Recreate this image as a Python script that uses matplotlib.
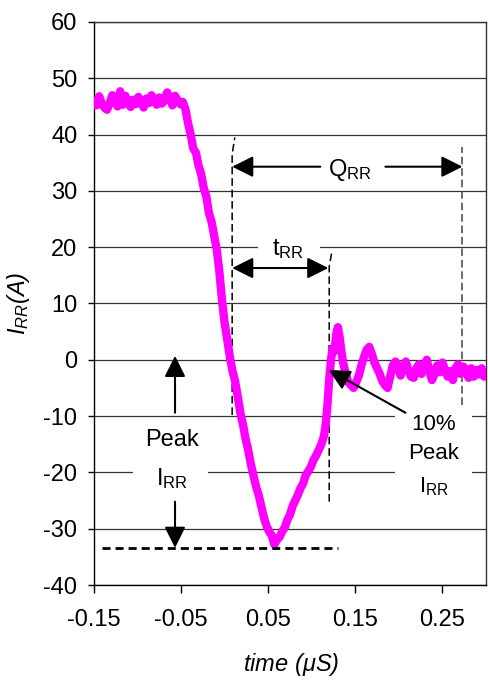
import matplotlib
matplotlib.use("Agg")
import matplotlib.pyplot as plt
from matplotlib.patches import Rectangle

plt.rcParams['font.family'] = ['Liberation Sans', 'DejaVu Sans']
plt.rcParams['mathtext.fontset'] = 'custom'
plt.rcParams['mathtext.rm'] = 'Liberation Sans'
plt.rcParams['mathtext.it'] = 'Liberation Sans:italic'
plt.rcParams['mathtext.bf'] = 'Liberation Sans:bold'
plt.rcParams['axes.unicode_minus'] = False

# ---- data ----
time_flat = [-0.150, -0.147, -0.144, -0.141, -0.138, -0.135, -0.132, -0.129, -0.126, -0.123,
             -0.120, -0.117, -0.114, -0.111, -0.108, -0.105, -0.102, -0.099, -0.096, -0.093,
             -0.090, -0.087, -0.084, -0.081, -0.078, -0.075, -0.072, -0.069, -0.066, -0.063,
             -0.060, -0.057, -0.054, -0.051, -0.048]
current_flat = [46.0, 45.2, 46.8, 45.5, 44.8, 44.4, 45.6, 47.0, 46.1, 45.0,
                47.7, 45.3, 46.9, 45.8, 44.9, 46.2, 45.4, 46.7, 45.9, 44.8,
                46.4, 45.6, 47.0, 46.0, 45.3, 46.6, 45.5, 46.2, 47.5, 46.4,
                45.2, 46.9, 46.1, 45.4, 45.8]

time_fall = [-0.045, -0.042, -0.039, -0.036, -0.033, -0.030, -0.027, -0.024, -0.021, -0.018,
             -0.015, -0.012, -0.009, -0.006, -0.003, 0.000, 0.003, 0.006, 0.009, 0.012,
             0.015, 0.018, 0.021, 0.024, 0.027, 0.030, 0.033, 0.036, 0.039, 0.042,
             0.045, 0.048, 0.051, 0.054, 0.057]
current_fall = [44.5, 42.0, 40.0, 37.5, 36.8, 34.5, 33.0, 30.5, 29.0, 26.0,
                24.5, 22.0, 19.5, 15.5, 10.5, 6.5, 3.5, 0.5, -2.0, -3.8,
                -6.5, -9.4, -11.5, -14.0, -16.0, -18.5, -20.5, -22.5, -24.0, -26.0,
                -28.0, -29.5, -30.5, -31.2, -32.8]

time_recover = [0.060, 0.063, 0.066, 0.069, 0.072, 0.075, 0.078, 0.081, 0.084, 0.087,
                0.090, 0.093, 0.096, 0.099, 0.102, 0.105, 0.108, 0.111, 0.114, 0.116,
                0.118, 0.120, 0.122, 0.124, 0.126, 0.128, 0.130, 0.132, 0.134, 0.136]
current_recover = [-32.0, -31.5, -30.5, -29.8, -28.4, -27.5, -26.0, -25.0, -24.0, -22.8,
                   -22.0, -20.5, -19.8, -19.0, -17.8, -17.0, -16.0, -15.0, -13.5, -11.5,
                   -8.0, -3.5, 0.0, 2.0, 1.5, 4.5, 5.8, 4.0, 1.5, -0.5]

time_tail = [0.139, 0.142, 0.145, 0.148, 0.151, 0.154, 0.157, 0.160, 0.163, 0.166,
             0.169, 0.172, 0.175, 0.178, 0.181, 0.184, 0.187, 0.190, 0.193, 0.196,
             0.199, 0.202, 0.205, 0.208, 0.211, 0.214, 0.217, 0.220, 0.223, 0.226,
             0.229, 0.232, 0.235, 0.238, 0.241, 0.244, 0.247, 0.250, 0.253, 0.256,
             0.259, 0.262, 0.265, 0.268, 0.271, 0.274, 0.277, 0.280, 0.283, 0.286,
             0.289, 0.292, 0.295, 0.298, 0.300]
current_tail = [-2.5, -4.0, -4.5, -5.0, -4.0, -2.8, -1.0, 0.5, 1.8, 2.3,
                1.0, -0.5, -1.5, -2.5, -3.8, -4.5, -5.0, -3.0, -1.0, -0.3,
                -1.5, -2.8, -1.0, -0.3, -2.0, -3.0, -3.2, -1.5, -0.8, -2.5,
                -1.0, 0.0, -2.0, -3.6, -2.5, -1.0, -2.2, -0.5, -1.8, -3.0,
                -2.0, -3.6, -1.5, -0.8, -2.5, -1.2, -2.0, -3.2, -1.5, -3.0,
                -1.8, -2.6, -1.5, -3.0, -2.5]

time_us = time_flat + time_fall + time_recover + time_tail
current_a = current_flat + current_fall + current_recover + current_tail

x_ticks = [-0.15, -0.05, 0.05, 0.15, 0.25]
x_tick_labels = ["-0.15", "-0.05", "0.05", "0.15", "0.25"]
y_ticks = [-40, -30, -20, -10, 0, 10, 20, 30, 40, 50, 60]

# annotation reference values
t_start = 0.0086      # start of reverse recovery
t_trr_end = 0.120     # end of tRR
t_qrr_end = 0.273     # end of QRR
peak_irr = -33.4

FS = 17

fig = plt.figure(figsize=(4.88, 6.81), dpi=100)
ax = fig.add_axes([94/488, 96/681, 392/488, 563/681])
ax.set_xlim(-0.15, 0.30)
ax.set_ylim(-40, 60)
ax.set_xticks(x_ticks)
ax.set_xticklabels(x_tick_labels)
ax.set_yticks(y_ticks)
ax.tick_params(axis='x', length=6, width=1, pad=11, labelsize=FS, direction='out')
ax.tick_params(axis='y', length=4, width=1, pad=8, labelsize=FS, direction='out')
ax.set_axisbelow(True)
ax.yaxis.grid(True, color='#333333', lw=0.9)
for s in ax.spines.values():
    s.set_color('#333333')
    s.set_linewidth(1.0)
ax.spines['left'].set_color('black')
ax.spines['bottom'].set_color('black')

# white gaps in gridlines behind labels
for (x0, x1, y0) in [(0.0385, 0.1098, 20), (-0.105, -0.019, -20),
                     (0.196, 0.2845, -10), (0.196, 0.2845, -20)]:
    ax.add_patch(Rectangle((x0, y0 - 1.0), x1 - x0, 2.0, fc='white', ec='none', zorder=1))

# curve
ax.plot(time_us, current_a, color='#FF00FF', lw=6, solid_capstyle='round',
        solid_joinstyle='round', zorder=3)

# dashed guide lines
vd = dict(color='black', lw=1.1, linestyle=(0, (5, 2.5)), zorder=2)
ax.plot([t_start, t_start, t_start + 0.003], [-9.8, 36.5, 39.5], **vd)
ax.plot([t_trr_end, t_trr_end, t_trr_end + 0.003], [-25.2, 16.5, 19.2], **vd)
ax.plot([t_qrr_end, t_qrr_end], [-8.0, 37.8], color='#444444', lw=1.1,
        linestyle=(0, (5, 2.5)), zorder=2)
ax.plot([-0.141, 0.130], [peak_irr, peak_irr], color='black', lw=2.0,
        linestyle=(0, (2.9, 1.8)), zorder=4)

ap = dict(arrowstyle='-|>,head_length=0.4,head_width=0.2', mutation_scale=32,
          color='black', lw=1.5, shrinkA=0, shrinkB=0)
ap2 = dict(arrowstyle='<|-|>,head_length=0.4,head_width=0.2', mutation_scale=32,
           color='black', lw=1.5, shrinkA=0, shrinkB=0)

# QRR
ax.annotate('', xy=(t_start, 34.3), xytext=(0.1098, 34.3), arrowprops=ap, zorder=5)
ax.annotate('', xy=(t_qrr_end, 34.3), xytext=(0.1845, 34.3), arrowprops=ap, zorder=5)
ax.text(0.144, 32.7, r'Q$_{\mathrm{RR}}$', fontsize=FS, ha='center', va='baseline', zorder=5)

# tRR
ax.annotate('', xy=(t_start, 16.3), xytext=(t_trr_end - 0.001, 16.3), arrowprops=ap2, zorder=5)
ax.text(0.073, 18.6, r't$_{\mathrm{RR}}$', fontsize=FS, ha='center', va='baseline', zorder=5)

# Peak IRR
ax.annotate('', xy=(-0.057, 0.7), xytext=(-0.057, -9.4), arrowprops=ap, zorder=5)
ax.annotate('', xy=(-0.057, peak_irr), xytext=(-0.057, -25.2), arrowprops=ap, zorder=5)
ax.text(-0.060, -15.3, 'Peak', fontsize=FS, ha='center', va='baseline', zorder=5)
ax.text(-0.060, -22.2, r'I$_{\mathrm{RR}}$', fontsize=FS, ha='center', va='baseline', zorder=5)

# 10% Peak IRR
ax.annotate('', xy=(0.1195, -1.8), xytext=(0.2075, -9.4), arrowprops=ap, zorder=5)
ax.text(0.240, -12.4, '10%', fontsize=FS - 1, ha='center', va='baseline', zorder=5)
ax.text(0.240, -17.6, 'Peak', fontsize=FS - 1, ha='center', va='baseline', zorder=5)
ax.text(0.240, -23.6, r'I$_{\mathrm{RR}}$', fontsize=FS - 1, ha='center', va='baseline', zorder=5)

# axis labels
ax.set_xlabel(r'time ($\mathit{\mu}$S)', fontsize=FS, fontstyle='italic')
ax.xaxis.set_label_coords(0.502, -0.118)
ax.set_ylabel(r'I$_{\mathit{RR}}$(A)', fontsize=FS, fontstyle='italic')
ax.yaxis.set_label_coords(-0.158, 0.5)

fig.savefig('out.png', dpi=100)
